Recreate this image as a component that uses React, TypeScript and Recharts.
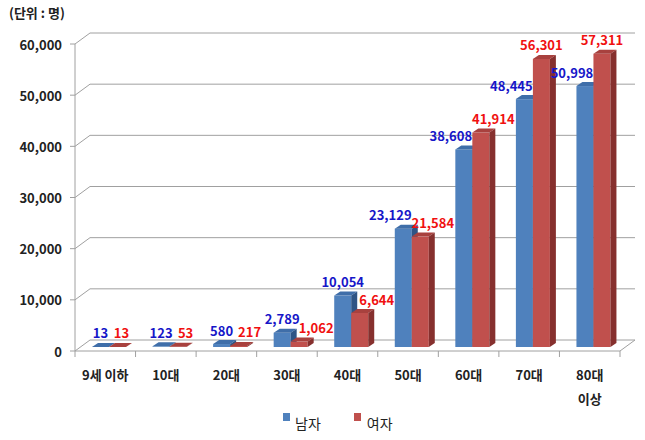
import React from 'react';
import { BarChart, Bar, XAxis, YAxis, CartesianGrid } from 'recharts';

const categories = ['9세 이하', '10대', '20대', '30대', '40대', '50대', '60대', '70대', '80대 이상'];
const male = [13, 123, 580, 2789, 10054, 23129, 38608, 48445, 50998];
const female = [13, 53, 217, 1062, 6644, 21584, 41914, 56301, 57311];
const yTicks = [0, 10000, 20000, 30000, 40000, 50000, 60000];

const data = categories.map((name, i) => ({ name, male: male[i], female: female[i] }));

const FONT = "'Noto Sans CJK KR', 'Malgun Gothic', sans-serif";
const PLOT_LEFT = 75;
const PLOT_RIGHT = 620;
const PLOT_BOTTOM = 347;
const BACK_DX = 15;
const BACK_DY = 7;
const FRONT_DY = 4;
const GRID = '#a0a0a0';
const BAR_SHIFT = 4;
const DEPTH_X = 6;
const DEPTH_Y = 4;
const PX_PER_UNIT = 307 / 60000;

const BLUE = { front: '#4f81bd', top: '#3f6ea9', side: '#2f5585' };
const RED = { front: '#c0504d', top: '#a8413e', side: '#86302e' };

const fmt = (v: number) => v.toLocaleString('en-US');

// rough width of a bold 13px string
const textWidth = (s: string) => {
  let w = 0;
  for (const ch of s) {
    if (ch === ',') w += 3.5;
    else if (ch === ' ') w += 3.5;
    else if (/[0-9]/.test(ch)) w += 7;
    else w += 13;
  }
  return w;
};

// wrap a category label into lines no wider than maxW
const wrap = (s: string, maxW: number) => {
  const words = s.split(' ');
  const lines: string[] = [];
  let cur = '';
  for (const w of words) {
    const next = cur ? cur + ' ' + w : w;
    if (cur && textWidth(next) > maxW) {
      lines.push(cur);
      cur = w;
    } else cur = next;
  }
  if (cur) lines.push(cur);
  return lines;
};

// nudge labels apart where the two labels of a category would collide
const maleShift = (i: number) => (male[i] >= 20000 ? -13 : 0);
const femaleShift = (i: number) => {
  const big = male[i] >= 20000;
  const dy = Math.abs(male[i] - female[i]) * PX_PER_UNIT;
  if (dy >= 20) return 0;
  const need = (textWidth(fmt(male[i])) + textWidth(fmt(female[i]))) / 2 - (big ? 26 : 10);
  return Math.max(0, Math.min(17, need));
};

const Bar3D = (props: any) => {
  const { x, y, width, height, colors } = props;
  const X = x + BAR_SHIFT;
  const h = Math.max(height || 0, 0);
  return (
    <g>
      <rect x={X} y={y} width={width} height={h} fill={colors.front} />
      <polygon
        points={`${X},${y} ${X + DEPTH_X},${y - DEPTH_Y} ${X + width + DEPTH_X},${y - DEPTH_Y} ${X + width},${y}`}
        fill={colors.top}
      />
      <polygon
        points={`${X + width},${y} ${X + width + DEPTH_X},${y - DEPTH_Y} ${X + width + DEPTH_X},${y + h - DEPTH_Y} ${X + width},${y + h}`}
        fill={colors.side}
      />
    </g>
  );
};

const makeLabel = (series: 'male' | 'female') => (props: any) => {
  const { x, y, width, index } = props;
  const v = series === 'male' ? male[index] : female[index];
  const shift = series === 'male' ? maleShift(index) : femaleShift(index);
  return (
    <text
      x={x + width / 2 + BAR_SHIFT + shift}
      y={y - 14}
      textAnchor="middle"
      dominantBaseline="central"
      fontFamily={FONT}
      fontWeight={700}
      fontSize={13}
      fill={series === 'male' ? '#1616c8' : '#f01010'}
    >
      {fmt(v)}
    </text>
  );
};

const gridLine = (p: any) => {
  const { x1, x2, y1 } = p;
  const top = p.y != null ? p.y : 40;
  const bottom = p.height != null ? p.y + p.height : PLOT_BOTTOM;
  const isBottom = Math.abs(y1 - bottom) < 1;
  const isTop = Math.abs(y1 - top) < 1;
  return (
    <g key={p.key}>
      <line x1={x1 + BACK_DX} x2={x2 + BACK_DX} y1={y1 - BACK_DY} y2={y1 - BACK_DY} stroke={GRID} />
      <line x1={x1} y1={y1 + FRONT_DY} x2={x1 + BACK_DX} y2={y1 - BACK_DY} stroke={GRID} />
      {isBottom && (
        <>
          <line x1={x1} x2={x2} y1={y1 + FRONT_DY} y2={y1 + FRONT_DY} stroke={GRID} />
          <line x1={x2} y1={y1 + FRONT_DY} x2={x2 + BACK_DX} y2={y1 - BACK_DY} stroke={GRID} />
        </>
      )}
      {isTop && <line x1={x1} x2={x1} y1={y1 + FRONT_DY} y2={bottom + FRONT_DY} stroke={GRID} />}
    </g>
  );
};

const YTick = (props: any) => {
  const { x, y, payload } = props;
  return (
    <g>
      <text
        x={x - 13}
        y={y + FRONT_DY}
        textAnchor="end"
        dominantBaseline="central"
        fontFamily={FONT}
        fontWeight={700}
        fontSize={13}
        fill="#222"
      >
        {fmt(payload.value)}
      </text>
      <line x1={x - 5} x2={x} y1={y + FRONT_DY} y2={y + FRONT_DY} stroke={GRID} />
    </g>
  );
};

const XTick = (props: any) => {
  const { x, y, payload, index } = props;
  const band = (PLOT_RIGHT - PLOT_LEFT) / categories.length;
  const floorY = y + FRONT_DY;
  const lines = wrap(String(payload.value), 53);
  return (
    <g>
      <line x1={x - band / 2} x2={x - band / 2} y1={floorY} y2={floorY + 6} stroke={GRID} />
      {index === categories.length - 1 && (
        <line x1={x + band / 2} x2={x + band / 2} y1={floorY} y2={floorY + 6} stroke={GRID} />
      )}
      <text
        x={x}
        y={y + 33}
        textAnchor="middle"
        fontFamily={FONT}
        fontWeight={700}
        fontSize={13}
        fill="#222"
      >
        {lines.map((l, i) => (
          <tspan key={i} x={x} dy={i === 0 ? 0 : 24}>
            {l}
          </tspan>
        ))}
      </text>
    </g>
  );
};

export default function App() {
  return (
    <div style={{ position: 'relative', width: 645, height: 440, background: '#fff', fontFamily: FONT }}>
      <style>{'body{margin:0}'}</style>
      <div style={{ position: 'absolute', left: 9, top: 3, fontSize: 13, fontWeight: 700, color: '#222' }}>
        (단위 : 명)
      </div>
      <BarChart
        width={645}
        height={440}
        data={data}
        margin={{ top: 40, right: 25, bottom: 33, left: 0 }}
        barGap={0}
      >
        <CartesianGrid vertical={false} horizontal={gridLine} />
        <XAxis
          dataKey="name"
          height={60}
          interval={0}
          tickLine={false}
          axisLine={false}
          tickSize={0}
          tickMargin={0}
          tick={XTick}
        />
        <YAxis
          domain={[0, 60000]}
          ticks={yTicks}
          interval={0}
          width={75}
          tickLine={false}
          axisLine={false}
          tickSize={0}
          tickMargin={0}
          tick={YTick}
        />
        <Bar
          dataKey="male"
          barSize={17}
          fill={BLUE.front}
          shape={(p: any) => <Bar3D {...p} colors={BLUE} />}
          label={makeLabel('male')}
          isAnimationActive={false}
        />
        <Bar
          dataKey="female"
          barSize={17}
          fill={RED.front}
          shape={(p: any) => <Bar3D {...p} colors={RED} />}
          label={makeLabel('female')}
          isAnimationActive={false}
        />
      </BarChart>
      <div
        style={{
          position: 'absolute',
          left: 283,
          top: 412,
          display: 'flex',
          alignItems: 'flex-start',
          fontSize: 14,
          color: '#222',
          lineHeight: '16px',
        }}
      >
        <span style={{ width: 7, height: 8, background: BLUE.front, marginTop: 1, marginRight: 5 }} />
        <span style={{ marginTop: 3 }}>남자</span>
        <span style={{ width: 7, height: 8, background: RED.front, marginLeft: 33, marginRight: 6, marginTop: 1 }} />
        <span style={{ marginTop: 3 }}>여자</span>
      </div>
    </div>
  );
}
